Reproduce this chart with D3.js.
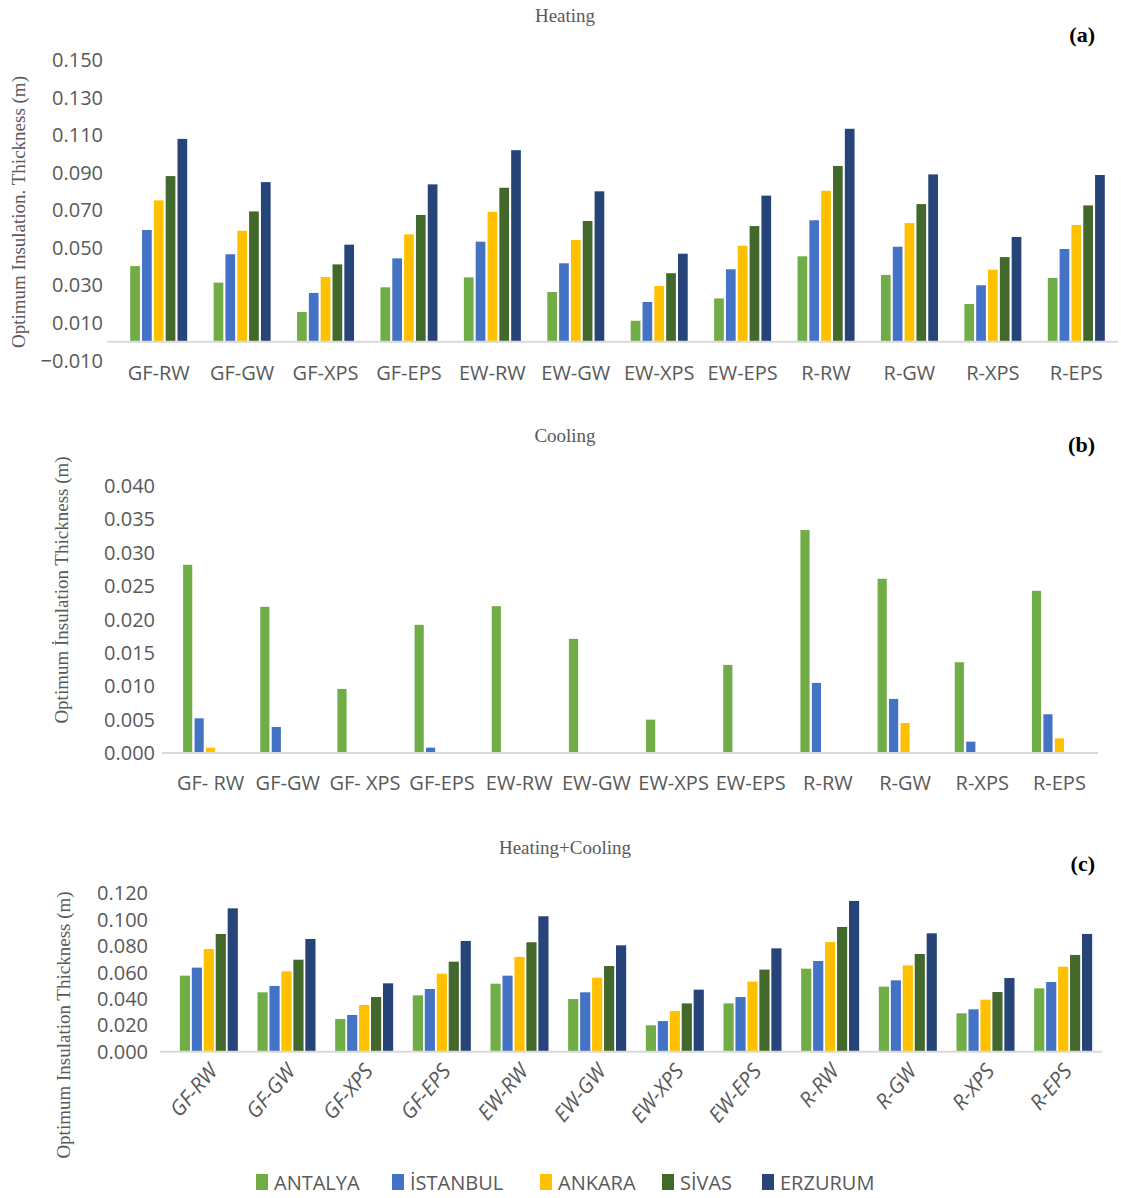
<!DOCTYPE html>
<html><head><meta charset="utf-8">
<script src="https://cdn.jsdelivr.net/npm/d3@7"></script>
<style>body{margin:0;background:#fff}</style></head>
<body><svg id="c" width="1121" height="1198"></svg>
<script>
const categories = ["GF-RW","GF-GW","GF-XPS","GF-EPS","EW-RW","EW-GW","EW-XPS","EW-EPS","R-RW","R-GW","R-XPS","R-EPS"];
const labelsB = ["GF- RW","GF-GW","GF- XPS","GF-EPS","EW-RW","EW-GW","EW-XPS","EW-EPS","R-RW","R-GW","R-XPS","R-EPS"];
const cities = ["ANTALYA","İSTANBUL","ANKARA","SİVAS","ERZURUM"];
const colors = ["#70ad47","#4472c4","#ffc000","#43682b","#264478"];
// Heating (a), per city across categories
const heatAntalya  = [0.0403,0.0315,0.0159,0.0290,0.0343,0.0265,0.0112,0.0231,0.0455,0.0356,0.0201,0.0340];
const heatIstanbul = [0.0595,0.0466,0.0260,0.0444,0.0533,0.0418,0.0212,0.0386,0.0647,0.0506,0.0301,0.0494];
const heatAnkara   = [0.0753,0.0591,0.0345,0.0572,0.0692,0.0542,0.0297,0.0511,0.0804,0.0632,0.0384,0.0622];
const heatSivas    = [0.0882,0.0694,0.0412,0.0675,0.0820,0.0643,0.0365,0.0616,0.0936,0.0733,0.0451,0.0726];
const heatErzurum  = [0.1080,0.0850,0.0517,0.0838,0.1020,0.0801,0.0469,0.0778,0.1134,0.0891,0.0558,0.0888];
// Cooling (b)
const coolAntalya  = [0.0282,0.0219,0.0096,0.0192,0.0220,0.0171,0.0050,0.0132,0.0334,0.0261,0.0136,0.0243];
const coolIstanbul = [0.0052,0.0039,0,0.0008,0,0,0,0,0.0105,0.0081,0.0017,0.0058];
const coolAnkara   = [0.0008,0,0,0,0,0,0,0,0,0.0045,0,0.0022];
const coolSivas    = [0,0,0,0,0,0,0,0,0,0,0,0];
const coolErzurum  = [0,0,0,0,0,0,0,0,0,0,0,0];
// Heating+Cooling (c)
const totAntalya  = [0.0576,0.0450,0.0248,0.0427,0.0515,0.0399,0.0200,0.0366,0.0629,0.0493,0.0291,0.0480];
const totIstanbul = [0.0637,0.0498,0.0278,0.0475,0.0576,0.0450,0.0232,0.0414,0.0687,0.0541,0.0321,0.0528];
const totAnkara   = [0.0778,0.0609,0.0354,0.0591,0.0718,0.0561,0.0308,0.0531,0.0831,0.0654,0.0394,0.0644];
const totSivas    = [0.0892,0.0697,0.0414,0.0682,0.0829,0.0649,0.0366,0.0622,0.0945,0.0740,0.0452,0.0733];
const totErzurum  = [0.1086,0.0854,0.0518,0.0839,0.1026,0.0806,0.0470,0.0783,0.1142,0.0897,0.0558,0.0892];
const ticksA = [-0.010,0.010,0.030,0.050,0.070,0.090,0.110,0.130,0.150];
const ticksB = [0,0.005,0.010,0.015,0.020,0.025,0.030,0.035,0.040];
const ticksC = [0,0.020,0.040,0.060,0.080,0.100,0.120];

const svg = d3.select("#c");
const numFont = "'Open Sans', sans-serif";
function panel(o){
  const g = svg.append("g");
  const x = d3.scaleBand().domain(categories).range([o.x0,o.x1]).paddingInner(0).paddingOuter(0);
  const y = d3.scaleLinear().domain(o.domain).range([o.yb,o.yt]);
  const inner = d3.scaleBand().domain(d3.range(5)).range([x.bandwidth()/2-o.gw/2, x.bandwidth()/2+o.gw/2]).paddingInner(o.pad);
  g.selectAll("text.yt").data(o.ticks).join("text").attr("x",o.tx).attr("y",d=>y(d)).attr("dy","0.35em")
   .attr("text-anchor","end").attr("font-family",numFont).attr("font-size",o.tfs).attr("fill","#595959").text(d=>d3.format(".3f")(d));
  o.series.forEach((s,i)=>{
    g.selectAll(null).data(s.map((v,j)=>({v,c:categories[j]})).filter(d=>d.v>0)).join("rect")
     .attr("x",d=>x(d.c)+inner(i)).attr("width",inner.bandwidth())
     .attr("y",d=>y(d.v)).attr("height",d=>y(0)-y(d.v)).attr("fill",colors[i]);
  });
  g.append("line").attr("x1",o.x0-10).attr("x2",o.x1).attr("y1",y(0)).attr("y2",y(0)).attr("stroke","#d9d9d9").attr("stroke-width",2);
  categories.forEach((c,j)=>{
    const cx = x(c)+x.bandwidth()/2;
    const lab = o.labels[j];
    if(o.rot){
      g.append("text").attr("transform",`translate(${cx+10},${y(0)+20}) rotate(-50)`).attr("text-anchor","end")
       .attr("font-family",numFont).attr("font-style","italic").attr("font-size",o.lfs).attr("fill","#595959").text(lab);
    } else {
      g.append("text").attr("x",cx).attr("y",o.ly).attr("text-anchor","middle").attr("font-family",numFont)
       .attr("font-size",o.lfs).attr("fill","#595959").text(lab);
    }
  });
  svg.append("text").attr("x",565).attr("y",o.titleY).attr("text-anchor","middle").attr("font-family","'Liberation Serif',serif")
   .attr("font-size",19).attr("fill","#595959").text(o.title);
  svg.append("text").attr("x",1095).attr("y",o.tagY).attr("text-anchor","end").attr("font-family","'Liberation Serif',serif")
   .attr("font-weight","bold").attr("font-size",22).attr("fill","#000").text(o.tag);
  svg.append("text").attr("transform",`translate(${o.ax},${o.ay}) rotate(-90)`).attr("text-anchor","middle")
   .attr("font-family","'Liberation Serif',serif").attr("font-size",19).attr("fill","#595959").text(o.ylab);
}
panel({x0:117,x1:1118,yb:341.8,yt:60,domain:[0,0.15],ticks:ticksA,tx:103,tfs:20,gw:57,pad:0.18,
  series:[heatAntalya,heatIstanbul,heatAnkara,heatSivas,heatErzurum],labels:categories,ly:380,lfs:20,
  title:"Heating",titleY:22,tag:"(a)",tagY:42,ylab:"Optimum Insulation. Thickness (m)",ax:25,ay:212});
panel({x0:172,x1:1098,yb:753,yt:486,domain:[0,0.04],ticks:ticksB,tx:155,tfs:20,gw:55,pad:0.2,
  series:[coolAntalya,coolIstanbul,coolAnkara,coolSivas,coolErzurum],labels:labelsB,ly:790,lfs:20,
  title:"Cooling",titleY:442,tag:"(b)",tagY:452,ylab:"Optimum İnsulation Thickness (m)",ax:68,ay:590});
panel({x0:170,x1:1102,yb:1051.7,yt:893.3,domain:[0,0.12],ticks:ticksC,tx:148,tfs:20,gw:58,pad:0.15,
  series:[totAntalya,totIstanbul,totAnkara,totSivas,totErzurum],labels:categories,lfs:21,rot:true,
  title:"Heating+Cooling",titleY:854,tag:"(c)",tagY:871,ylab:"Optimum Insulation Thickness (m)",ax:70,ay:1025});
const lx = [256,392,540,662,762];
cities.forEach((c,i)=>{
  svg.append("rect").attr("x",lx[i]).attr("y",1174).attr("width",12).attr("height",16).attr("fill",colors[i]);
  svg.append("text").attr("x",lx[i]+18).attr("y",1190).attr("font-family",numFont).attr("font-size",20).attr("fill","#595959").text(c);
});
</script></body></html>
